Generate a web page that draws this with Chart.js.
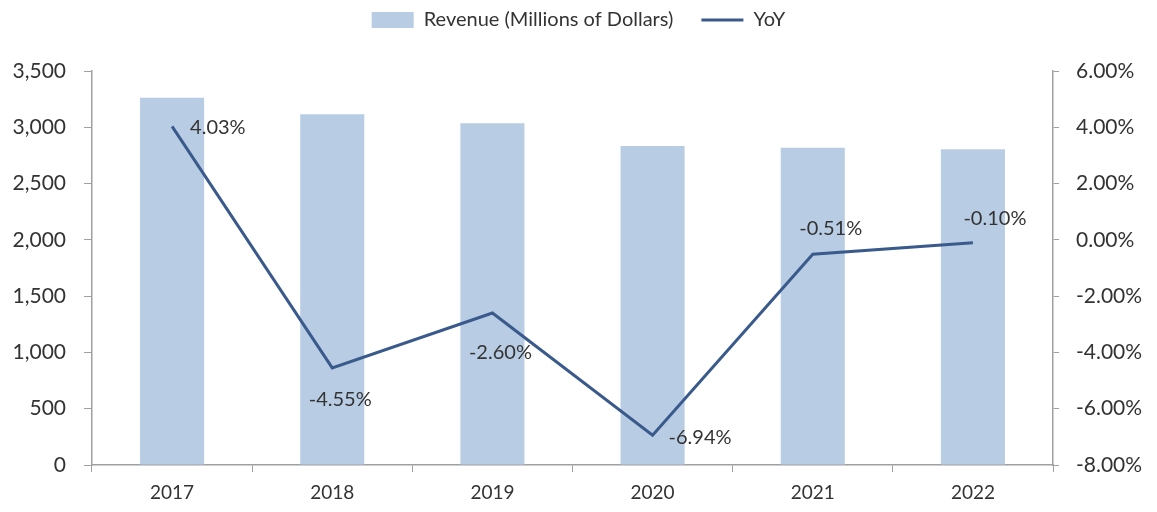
<!DOCTYPE html>
<html>
<head>
<meta charset="utf-8">
<script src="https://cdn.jsdelivr.net/npm/chart.js@4.4.0/dist/chart.umd.min.js"></script>
<style>
  html, body { margin: 0; padding: 0; background: #fff; }
  #wrap { width: 1157px; height: 512px; }
</style>
</head>
<body>
<div id="wrap"><canvas id="revenueChart"></canvas></div>
<script>
var years = ['2017', '2018', '2019', '2020', '2021', '2022'];
var revenue = [3262, 3115, 3035, 2833, 2818, 2804];
var yoy = [4.03, -4.55, -2.60, -6.94, -0.51, -0.10];
var leftTicks = [0, 500, 1000, 1500, 2000, 2500, 3000, 3500];
var rightTicks = [-8, -6, -4, -2, 0, 2, 4, 6];

// where each YoY label sits relative to its point (dx, dy, align)
var labelPlace = [
  [18, 1, 'left'], [8, 32, 'center'], [8, 40, 'center'],
  [16, 2, 'left'], [18, -26, 'center'], [22, -24, 'center']
];

var fontFamily = 'Lato, "Open Sans", sans-serif';
var textColor = '#333333';
var axisColor = '#a0a0a0';

var yoyLabels = {
  id: 'yoyLabels',
  afterInit: function(chart) {
    // fixed legend band so the plot starts where the original does
    var legend = chart.legend;
    if (legend && !legend._padded) {
      var fit = legend.fit;
      legend.fit = function() {
        fit.call(this);
        this.height = 71;
      };
      legend._padded = true;
    }
  },
  afterLayout: function(chart) {
    // pull the legend row up (its padding also spaces the two items)
    if (chart.legend) chart.legend.top = -18;
  },
  afterDatasetsDraw: function(chart) {
    var meta = chart.getDatasetMeta(1);
    var ctx = chart.ctx;
    ctx.save();
    ctx.font = '20px ' + fontFamily;
    ctx.fillStyle = textColor;
    ctx.textBaseline = 'middle';
    meta.data.forEach(function(pt, i) {
      var p = labelPlace[i];
      ctx.textAlign = p[2];
      ctx.fillText(yoy[i].toFixed(2) + '%', pt.x + p[0], pt.y + p[1]);
    });
    ctx.restore();
  }
};

var ctx = document.getElementById('revenueChart').getContext('2d');
new Chart(ctx, {
  type: 'bar',
  data: {
    labels: years,
    datasets: [
      {
        label: 'Revenue (Millions of Dollars)',
        data: revenue,
        backgroundColor: '#b8cce4',
        borderWidth: 0,
        yAxisID: 'y',
        order: 2,
        barPercentage: 0.8,
        categoryPercentage: 0.5,
        pointStyle: 'rect'
      },
      {
        type: 'line',
        label: 'YoY',
        data: yoy,
        borderColor: '#3a5a8c',
        backgroundColor: '#3a5a8c',
        borderWidth: 3,
        pointRadius: 0,
        tension: 0,
        yAxisID: 'y1',
        order: 1,
        pointStyle: 'line'
      }
    ]
  },
  options: {
    responsive: true,
    maintainAspectRatio: false,
    animation: false,
    layout: { padding: 0 },
    plugins: {
      legend: {
        position: 'top',
        labels: {
          usePointStyle: true,
          pointStyleWidth: 42,
          boxHeight: 16,
          color: textColor,
          font: { family: fontFamily, size: 20 },
          padding: 28,
          sort: function(a, b) { return a.datasetIndex - b.datasetIndex; }
        }
      },
      tooltip: { enabled: false }
    },
    scales: {
      x: {
        offset: true,
        grid: { offset: true, drawOnChartArea: false, color: axisColor, tickLength: 7 },
        border: { color: axisColor, width: 1.5 },
        ticks: { color: textColor, font: { family: fontFamily, size: 19 }, padding: 9 },
        afterFit: function(s) { s.height = 47; }
      },
      y: {
        position: 'left',
        min: 0,
        max: 3500,
        afterBuildTicks: function(s) { s.ticks = leftTicks.map(function(v) { return { value: v }; }); },
        grid: { drawOnChartArea: false, color: axisColor, tickLength: 8 },
        border: { color: axisColor, width: 1.5 },
        ticks: {
          color: textColor,
          font: { family: fontFamily, size: 21 },
          padding: 18,
          callback: function(v) { return v.toLocaleString('en-US'); }
        },
        afterFit: function(s) { s.width = 92; }
      },
      y1: {
        position: 'right',
        min: -8,
        max: 6,
        afterBuildTicks: function(s) { s.ticks = rightTicks.map(function(v) { return { value: v }; }); },
        grid: { drawOnChartArea: false, color: axisColor, tickLength: 6 },
        border: { color: axisColor, width: 1.5 },
        ticks: {
          color: textColor,
          font: { family: fontFamily, size: 21 },
          padding: 17,
          callback: function(v) { return v.toFixed(2) + '%'; }
        },
        afterFit: function(s) { s.width = 104; }
      }
    }
  },
  plugins: [yoyLabels]
});
</script>
</body>
</html>
